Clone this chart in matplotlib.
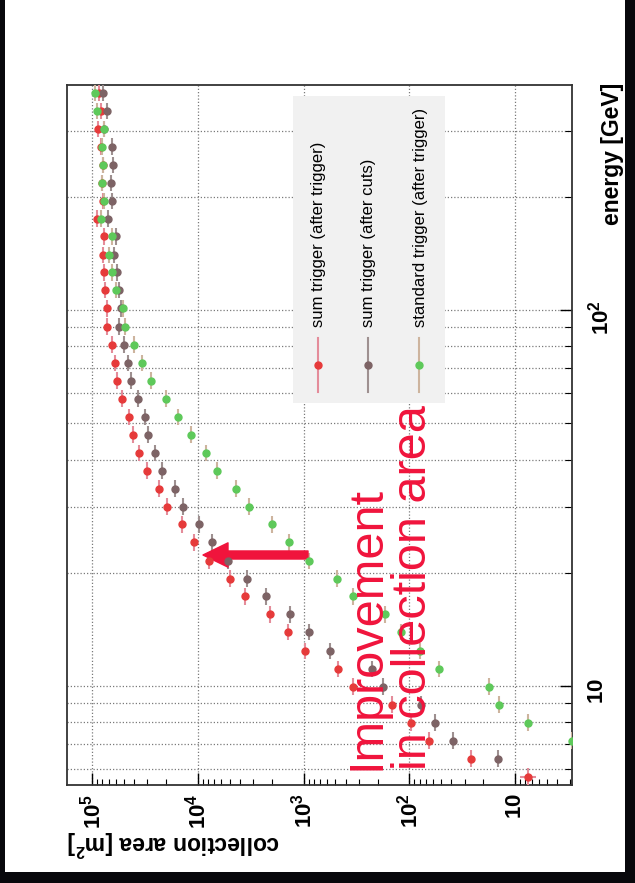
import numpy as np
import matplotlib.pyplot as plt
from matplotlib.patches import Rectangle
from matplotlib.ticker import FixedLocator, FixedFormatter, LogLocator, NullFormatter

plt.rcParams['font.family'] = ['Liberation Sans', 'DejaVu Sans']
plt.rcParams['mathtext.fontset'] = 'custom'
plt.rcParams['mathtext.rm'] = 'Liberation Sans'
plt.rcParams['mathtext.bf'] = 'Liberation Sans:bold'

W, H = 635, 883


def fx(x):
    return x / W


def fy(y):
    return 1 - y / H


# energy bin centres [GeV]
energy = [5.74, 6.41, 7.15, 7.99, 8.92, 9.96, 11.1, 12.4, 13.9, 15.5,
          17.3, 19.3, 21.5, 24.1, 26.9, 30.0, 33.5, 37.4, 41.7, 46.6,
          52.0, 58.1, 64.9, 72.4, 80.9, 90.3, 101, 113, 126, 140,
          157, 175, 195, 218, 243, 272, 303, 339, 378]

# collection area [m^2]
sum_trig = [7.6, 26.3, 65, 97, 147, 340, 470, 970, 1400, 2100,
            3600, 5000, 7800, 10800, 14100, 19500, 23400, 30400, 35900, 41500,
            44700, 52000, 58400, 61000, 64700, 72100, 72100, 75800, 77500, 79700,
            77000, 89700, 79200, 80900, 79200, 82700, 87700, 83300, 85900]
sum_cuts = [np.nan, 14.4, 38.4, 57.3, 77.7, 177, 226, 564, 885, 1350,
            2290, 3400, 5200, 7370, 9780, 13900, 16400, 21800, 25700, 29500,
            31700, 37200, 43300, 46300, 50100, 55500, 53900, 55900, 58800, 62300,
            59700, 70600, 65500, 67000, 63300, 64700, 77500, 73100, 78700]
std_trig = [np.nan, np.nan, 2.9, 7.6, 14.2, 17.5, 52.5, 79.4, 120, 170,
            339, 487, 897, 1390, 1980, 3310, 4370, 6660, 8460, 11700,
            15500, 20200, 27800, 33900, 40300, 49100, 51600, 59700, 64700, 69500,
            64700, 82700, 77500, 80400, 78700, 81500, 77000, 89700, 94300]

labels = ['sum trigger (after trigger)', 'sum trigger (after cuts)',
          'standard trigger (after trigger)']
colors = ['#e63a3a', '#7d6365', '#5ec95a']
bar_colors = ['#e48c9a', '#9e9090', '#cdb49e']

area_ticks = [1e5, 1e4, 1e3, 1e2, 10]
area_ticklabels = [r'$\mathbf{10^{5}}$', r'$\mathbf{10^{4}}$', r'$\mathbf{10^{3}}$',
                   r'$\mathbf{10^{2}}$', r'$\mathbf{10}$']
energy_ticks = [10, 100]
energy_ticklabels = [r'$\mathbf{10}$', r'$\mathbf{10^{2}}$']

half_bin = 0.022  # half bin width in log10(E)

fig = plt.figure(figsize=(W / 100, H / 100), dpi=100, facecolor='#08080c')
fig.add_artist(Rectangle((fx(5), fy(872)), fx(620), 872 / H, transform=fig.transFigure,
                         facecolor='white', edgecolor='none', zorder=-5))

ax = fig.add_axes([fx(67), fy(785), fx(505), 700 / H])
ax.set_xscale('log')
ax.set_yscale('log')

e = np.array(energy)
yerr = [e * (1 - 10 ** -half_bin), e * (10 ** half_bin - 1)]
for area, c, bc in zip([sum_trig, sum_cuts, std_trig], colors, bar_colors):
    ax.errorbar(area, energy, yerr=yerr, fmt='o', ms=5, mfc=c, mec=c,
                ecolor=bc, elinewidth=1.5, capsize=0, zorder=3)
# horizontal error on the lowest red point
ax.errorbar([sum_trig[0]], [energy[0]], xerr=[[1.2], [1.4]], fmt='none',
            ecolor=bar_colors[0], elinewidth=1.5, capsize=0, zorder=3)

ax.set_xlim(1.73e5, 2.9)
ax.set_ylim(5.45, 397)

ax.xaxis.set_major_locator(FixedLocator(area_ticks))
ax.xaxis.set_major_formatter(FixedFormatter(area_ticklabels))
ax.xaxis.set_minor_locator(LogLocator(base=10, subs=np.arange(2, 10), numticks=20))
ax.xaxis.set_minor_formatter(NullFormatter())
ax.yaxis.set_major_locator(FixedLocator(energy_ticks))
ax.yaxis.set_major_formatter(FixedFormatter(energy_ticklabels))
ax.yaxis.set_minor_locator(LogLocator(base=10, subs=np.arange(2, 10), numticks=20))
ax.yaxis.set_minor_formatter(NullFormatter())

ax.tick_params(axis='x', which='major', direction='in', length=8.5, width=1.0,
               labelsize=16, labelrotation=90, pad=6, top=False)
ax.tick_params(axis='x', which='minor', direction='in', length=4.5, width=0.8, top=False)
ax.tick_params(axis='y', which='major', direction='in', length=8.5, width=1.0,
               left=False, right=True, labelleft=False, labelright=True,
               labelsize=16, labelrotation=90, pad=11)
ax.tick_params(axis='y', which='minor', direction='in', length=5, width=0.8,
               left=False, right=True)

ax.grid(True, axis='x', which='major', ls=(0, (1, 1.6)), color='#7a7a7a', lw=0.9)
ax.grid(True, axis='y', which='both', ls=(0, (1, 1.6)), color='#7a7a7a', lw=0.9)
ax.set_axisbelow(True)
for s in ax.spines.values():
    s.set_linewidth(1.3)
    s.set_color('#333333')

fig.text(fx(67), fy(843), r'collection area [m$^{\mathbf{2}}$]', rotation=180,
         ha='left', va='center', fontsize=16.5, fontweight='bold')
fig.text(fx(612), fy(83), 'energy [GeV]', rotation=90, ha='center', va='top',
         fontsize=16.5, fontweight='bold')

# legend box
lax = fig.add_axes([fx(293), fy(403), fx(152), 307 / H])
lax.set_facecolor('#f1f1f1')
lax.set_xlim(293, 445)
lax.set_ylim(403, 96)
lax.set_xticks([])
lax.set_yticks([])
for s in lax.spines.values():
    s.set_visible(False)
for xpos, lab, c, bc in zip([317.7, 368, 419], labels, colors, bar_colors):
    lax.plot([xpos, xpos], [338, 392], color=bc, lw=1.5)
    lax.plot([xpos], [365], 'o', ms=5, color=c)
    lax.text(xpos + 1, 327, lab, rotation=90, ha='center', va='bottom', fontsize=12)

# annotation
red = '#f0143c'
ax.annotate('', xy=(fx(203), fy(555)), xycoords='figure fraction',
            xytext=(fx(308), fy(555)), textcoords='figure fraction',
            arrowprops=dict(arrowstyle='simple,head_length=1.8,head_width=1.75,tail_width=0.58',
                            color=red, mutation_scale=10, shrinkA=0, shrinkB=0))
fig.text(fx(367), fy(770), 'Improvement', rotation=90, ha='center', va='bottom',
         fontsize=35, color=red)
fig.text(fx(414), fy(770), 'in collection area', rotation=90, ha='center', va='bottom',
         fontsize=35, color=red)

fig.savefig('out.png', dpi=100, facecolor=fig.get_facecolor())
